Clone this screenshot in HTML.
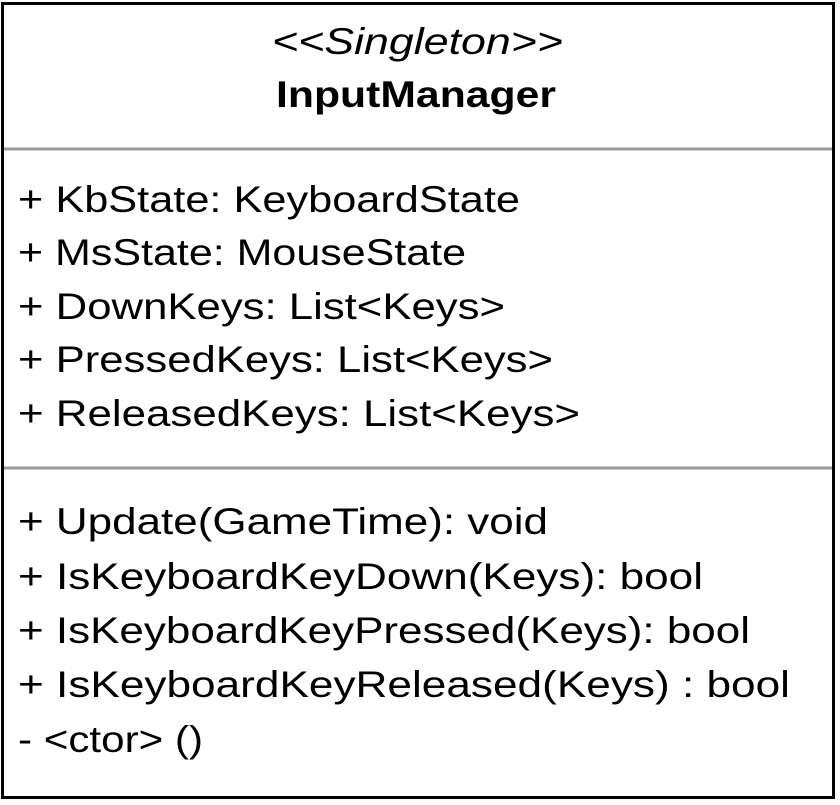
<!DOCTYPE html>
<html><head><meta charset="utf-8"><style>
html,body{margin:0;padding:0;background:#fff;}
svg{display:block;}
text{font-family:"Liberation Sans",Arial,sans-serif;font-size:37px;fill:#000;}
</style></head><body>
<svg width="840" height="805" viewBox="0 0 840 805" xmlns="http://www.w3.org/2000/svg">
<rect x="2.5" y="3.5" width="831" height="794" fill="#fff" stroke="#000" stroke-width="3"/>
<line x1="4" y1="149" x2="832" y2="149" stroke="#999" stroke-width="3"/>
<line x1="4" y1="468" x2="832" y2="468" stroke="#999" stroke-width="3"/>
<text x="272" y="54" font-style="italic" textLength="291" lengthAdjust="spacingAndGlyphs">&lt;&lt;Singleton&gt;&gt;</text>
<text x="276" y="107" font-weight="bold" textLength="280" lengthAdjust="spacingAndGlyphs">InputManager</text>
<text x="18" y="212" textLength="502" lengthAdjust="spacingAndGlyphs">+ KbState: KeyboardState</text>
<text x="18" y="265" textLength="448" lengthAdjust="spacingAndGlyphs">+ MsState: MouseState</text>
<text x="18" y="319" textLength="487" lengthAdjust="spacingAndGlyphs">+ DownKeys: List&lt;Keys&gt;</text>
<text x="18" y="372" textLength="535" lengthAdjust="spacingAndGlyphs">+ PressedKeys: List&lt;Keys&gt;</text>
<text x="18" y="426" textLength="562" lengthAdjust="spacingAndGlyphs">+ ReleasedKeys: List&lt;Keys&gt;</text>
<text x="18" y="534" textLength="530" lengthAdjust="spacingAndGlyphs">+ Update(GameTime): void</text>
<text x="18" y="589" textLength="685" lengthAdjust="spacingAndGlyphs">+ IsKeyboardKeyDown(Keys): bool</text>
<text x="18" y="643" textLength="732" lengthAdjust="spacingAndGlyphs">+ IsKeyboardKeyPressed(Keys): bool</text>
<text x="18" y="697" textLength="772" lengthAdjust="spacingAndGlyphs">+ IsKeyboardKeyReleased(Keys) : bool</text>
<text x="18" y="752" textLength="185" lengthAdjust="spacingAndGlyphs">- &lt;ctor&gt; ()</text>
</svg>
</body></html>
